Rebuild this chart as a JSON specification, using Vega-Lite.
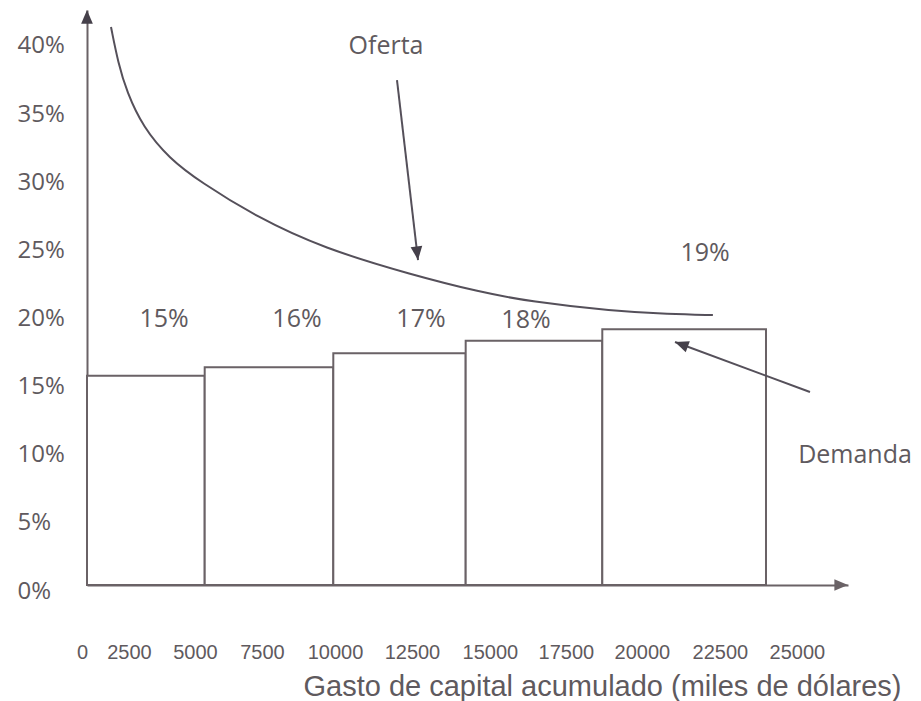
{
  "$schema": "https://vega.github.io/schema/vega-lite/v6.json",
  "width": 761,
  "height": 575,
  "autosize": {"type": "none"},
  "padding": {"left": 87, "top": 10, "right": 73, "bottom": 116},
  "background": "white",
  "config": {"view": {"stroke": null}, "axis": {"grid": false}},
  "datasets": {
    "demanda": [
      {"desde": 0, "hasta": 4145, "tasa": 15.36},
      {"desde": 4145, "hasta": 8674, "tasa": 15.98},
      {"desde": 8674, "hasta": 13336, "tasa": 17.0},
      {"desde": 13336, "hasta": 18147, "tasa": 17.93},
      {"desde": 18147, "hasta": 23912, "tasa": 18.77}
    ],
    "oferta": [
      {"gasto": 845, "tasa": 40.95},
      {"gasto": 1100, "tasa": 38.3},
      {"gasto": 1400, "tasa": 36.2},
      {"gasto": 1972, "tasa": 33.6},
      {"gasto": 2900, "tasa": 31.3},
      {"gasto": 3979, "tasa": 29.6},
      {"gasto": 5986, "tasa": 26.99},
      {"gasto": 8310, "tasa": 24.72},
      {"gasto": 11479, "tasa": 22.74},
      {"gasto": 13838, "tasa": 21.5},
      {"gasto": 15599, "tasa": 20.8},
      {"gasto": 18521, "tasa": 20.1},
      {"gasto": 20500, "tasa": 19.88},
      {"gasto": 22042, "tasa": 19.81}
    ],
    "etiquetas": [
      {"gasto": 10530, "tasa": 39.56, "texto": "Oferta"},
      {"gasto": 27046, "tasa": 9.54, "texto": "Demanda"},
      {"gasto": 2712, "tasa": 19.52, "texto": "15%"},
      {"gasto": 7395, "tasa": 19.52, "texto": "16%"},
      {"gasto": 11762, "tasa": 19.52, "texto": "17%"},
      {"gasto": 15460, "tasa": 19.45, "texto": "18%"},
      {"gasto": 21764, "tasa": 24.37, "texto": "19%"}
    ],
    "flechas": [
      {"nombre": "Oferta", "x0": 10917, "y0": 37.06, "x1": 11657, "y1": 23.85},
      {"nombre": "Demanda", "x0": 25461, "y0": 14.16, "x1": 20707, "y1": 17.83}
    ]
  },
  "layer": [
    {
      "data": {"name": "demanda"},
      "mark": {"type": "rect", "fill": "white", "stroke": "#6a6266", "strokeWidth": 2},
      "encoding": {
        "x": {
          "field": "desde",
          "type": "quantitative",
          "scale": {"domain": [0, 26800], "nice": false, "zero": false},
          "axis": {
            "values": [0, 2500, 5000, 7500, 10000, 12500, 15000, 17500, 20000, 22500, 25000],
            "format": "d",
            "title": "Gasto de capital acumulado (miles de dólares)",
            "labelFont": "Liberation Sans",
            "labelFontSize": 20,
            "labelColor": "#5f5a5e",
            "labelPadding": 67,
            "labelBaseline": "middle",
            "labelAlign": "center",
            "labelOverlap": false,
            "labelFlush": false,
            "labelBound": false,
            "ticks": false,
            "tickSize": 0,
            "labelOffset": {
              "condition": [
                {"test": "datum.value == 0", "value": -5},
                {"test": "datum.value == 2500", "value": -29},
                {"test": "datum.value == 5000", "value": -34},
                {"test": "datum.value == 7500", "value": -38},
                {"test": "datum.value == 10000", "value": -36},
                {"test": "datum.value == 12500", "value": -30},
                {"test": "datum.value == 15000", "value": -23},
                {"test": "datum.value == 17500", "value": -18},
                {"test": "datum.value == 20000", "value": -13},
                {"test": "datum.value == 22500", "value": -6}
              ],
              "value": 0
            },
            "domainColor": "#6a6266",
            "domainWidth": 2,
            "titleFont": "Liberation Sans",
            "titleFontSize": 29,
            "titleFontWeight": "normal",
            "titleColor": "#5f5a5e",
            "titleX": 515,
            "titleY": 101,
            "titleAlign": "center",
            "titleBaseline": "middle"
          }
        },
        "x2": {"field": "hasta"},
        "y": {
          "field": "tasa",
          "type": "quantitative",
          "scale": {"domain": [0, 42.2], "nice": false, "zero": true},
          "axis": {
            "values": [0, 5, 10, 15, 20, 25, 30, 35, 40],
            "labelExpr": "datum.value + '%'",
            "title": null,
            "labelFont": "Open Sans",
            "labelFontSize": 24,
            "labelColor": "#5f5a5e",
            "labelAlign": "left",
            "labelPadding": 70,
            "labelOffset": 6,
            "labelBaseline": "middle",
            "labelOverlap": false,
            "labelFlush": false,
            "labelBound": false,
            "ticks": false,
            "tickSize": 0,
            "domainColor": "#6a6266",
            "domainWidth": 2
          }
        },
        "y2": {"datum": 0}
      }
    },
    {
      "data": {"name": "oferta"},
      "mark": {"type": "line", "color": "#55505a", "strokeWidth": 2, "interpolate": "basis"},
      "encoding": {
        "x": {"field": "gasto", "type": "quantitative"},
        "y": {"field": "tasa", "type": "quantitative"}
      }
    },
    {
      "data": {"name": "flechas"},
      "mark": {"type": "rule", "color": "#55505a", "strokeWidth": 2},
      "encoding": {
        "x": {"field": "x0", "type": "quantitative"},
        "y": {"field": "y0", "type": "quantitative"},
        "x2": {"field": "x1"},
        "y2": {"field": "y1"}
      }
    },
    {
      "data": {"values": [{"gasto": 11657, "tasa": 23.85}]},
      "mark": {"type": "point", "shape": "M0,0L0.6,1.4L-0.6,1.4Z", "size": 380, "filled": true, "color": "#45404a", "opacity": 1, "angle": 173.4},
      "encoding": {
        "x": {"field": "gasto", "type": "quantitative"},
        "y": {"field": "tasa", "type": "quantitative"}
      }
    },
    {
      "data": {"values": [{"gasto": 20707, "tasa": 17.83}]},
      "mark": {"type": "point", "shape": "M0,0L0.6,1.4L-0.6,1.4Z", "size": 380, "filled": true, "color": "#45404a", "opacity": 1, "angle": 290.3},
      "encoding": {
        "x": {"field": "gasto", "type": "quantitative"},
        "y": {"field": "tasa", "type": "quantitative"}
      }
    },
    {
      "data": {"values": [{"gasto": 0, "tasa": 42.2}]},
      "mark": {"type": "point", "shape": "M0,0L0.6,1.4L-0.6,1.4Z", "size": 380, "filled": true, "color": "#45404a", "opacity": 1, "angle": 0},
      "encoding": {
        "x": {"field": "gasto", "type": "quantitative"},
        "y": {"field": "tasa", "type": "quantitative"}
      }
    },
    {
      "data": {"values": [{"gasto": 26800, "tasa": 0}]},
      "mark": {"type": "point", "shape": "M0,0L0.6,1.4L-0.6,1.4Z", "size": 380, "filled": true, "color": "#6a6266", "opacity": 1, "angle": 90},
      "encoding": {
        "x": {"field": "gasto", "type": "quantitative"},
        "y": {"field": "tasa", "type": "quantitative"}
      }
    },
    {
      "data": {"name": "etiquetas"},
      "mark": {"type": "text", "font": "Open Sans", "fontSize": 25, "color": "#5f5a5e", "align": "center", "baseline": "middle"},
      "encoding": {
        "x": {"field": "gasto", "type": "quantitative"},
        "y": {"field": "tasa", "type": "quantitative"},
        "text": {"field": "texto"}
      }
    }
  ]
}
